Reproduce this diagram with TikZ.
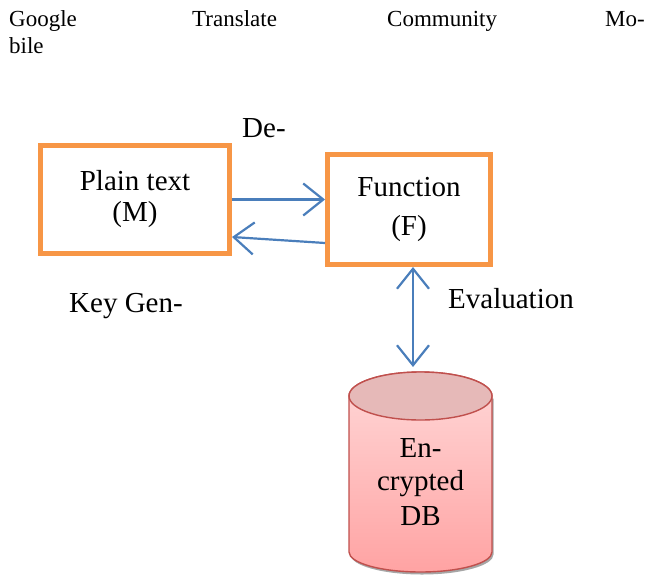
\documentclass[tikz,border=0pt]{standalone}
\usepackage{fontspec}
\setmainfont{Liberation Serif}
\usetikzlibrary{arrows.meta}
\definecolor{boxorange}{HTML}{F79646}
\definecolor{linkblue}{HTML}{4A7EBB}
\definecolor{dbline}{HTML}{C0504D}
\definecolor{dbcap}{HTML}{E6B9B8}
\definecolor{dbhigh}{HTML}{FFD8D8}
\definecolor{dblow}{HTML}{FFA3A3}
\begin{document}
\begin{tikzpicture}[x=1pt,y=-1pt,
    small/.style={font=\fontsize{23}{27}\selectfont,inner sep=0pt},
    big/.style={font=\fontsize{29}{30}\selectfont,inner sep=0pt},
    block/.style={draw=boxorange,line width=5pt,align=center,
      font=\fontsize{29}{30}\selectfont},
    link/.style={draw=linkblue,line width=2.2pt,
      -{Straight Barb[length=20pt,width=32pt]}},
    dlink/.style={link,{Straight Barb[length=20pt,width=32pt]}-{Straight Barb[length=20pt,width=32pt]}}]
  \useasboundingbox (0,0) rectangle (652,575);
  % heading line
  \node[small,anchor=base west] (google) at (9,27) {Google};
  \node[small,anchor=base west] (translate) at (192,27) {Translate};
  \node[small,anchor=base west] (community) at (387,27) {Community};
  \node[small,anchor=base east] (mo) at (645,27) {Mo-};
  \node[small,anchor=base west] (bile) at (9,54) {bile};
  % blocks
  \node[block,minimum width=189pt,minimum height=108pt] (M) at (135,199.5)
    {Plain text\\[1pt](M)};
  \node[block,minimum width=163pt,minimum height=110pt] (F) at (409,209.5)
    {Function\\[9pt](F)};
  \node[big,anchor=base west] (dec) at (242,137) {De-};
  \node[big,anchor=base west] (keygen) at (69,312) {Key Gen-};
  \node[big,anchor=base west] (eval) at (448,308) {Evaluation};
  % database
  \fill[gray!70] (350.5,398.5) -- (350.5,554.5)
    arc[start angle=180,end angle=360,x radius=71.5pt,y radius=20pt]
    -- (493.5,398.5) -- cycle;
  \shade[top color=dbhigh,bottom color=dblow,draw=dbline,line width=1.4pt]
    (349,396) -- (349,552)
    arc[start angle=180,end angle=360,x radius=71.5pt,y radius=20pt]
    -- (492,396)
    arc[start angle=0,end angle=180,x radius=71.5pt,y radius=24pt] -- cycle;
  \filldraw[fill=dbcap,draw=dbline,line width=1.4pt] (420.5,396)
    ellipse[x radius=71.5pt,y radius=24pt];
  \coordinate (dbtop) at (413,367);
  \node[big,align=center] (db) at (420.5,482) {En-\\[3pt]crypted\\[5pt]DB};
  % connectors
  \draw[link] (M.east) -- (M.east -| F.west);
  \draw[link] ([yshift=-33.5pt]F.west) -- ([yshift=-37.5pt]M.east);
  \draw[dlink] ([xshift=4pt]F.south) -- (dbtop);
\end{tikzpicture}
\end{document}
